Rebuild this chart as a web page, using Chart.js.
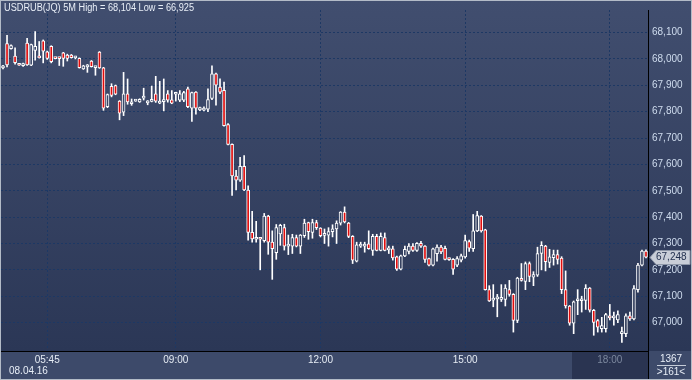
<!DOCTYPE html>
<html>
<head>
<meta charset="utf-8">
<script src="https://cdn.jsdelivr.net/npm/chart.js@4.4.0/dist/chart.umd.min.js"></script>
<style>
  html, body { margin: 0; padding: 0; background: #3a4767; }
  canvas { display: block; }
</style>
</head>
<body>
<canvas id="chartCandles" width="692" height="380"></canvas>
<script>
// USDRUB(JQ) 5M candles
const opens = [
  67.966, 68.058, 68.039, 68.011, 67.978, 67.974, 68.060, 67.976, 68.032, 68.006,
  68.069, 68.027, 68.048, 68.003, 68.002, 68.023, 68.015, 68.015, 68.004, 68.002,
  67.962, 67.970, 67.992, 67.967, 68.026, 67.966, 67.819, 67.896, 67.899, 67.840,
  67.798, 67.868, 67.830, 67.840, 67.837, 67.851, 67.833, 67.839, 67.868, 67.832,
  67.838, 67.868, 67.845, 67.866, 67.844, 67.844, 67.887, 67.813, 67.874, 67.807,
  67.806, 67.809, 67.850, 67.943, 67.893, 67.881, 67.751, 67.676, 67.556, 67.540,
  67.593, 67.503, 67.342, 67.316, 67.318, 67.311, 67.404, 67.305, 67.265, 67.336,
  67.360, 67.290, 67.290, 67.322, 67.290, 67.330, 67.379, 67.342, 67.379, 67.358,
  67.331, 67.332, 67.345, 67.355, 67.377, 67.419, 67.377, 67.327, 67.233, 67.290,
  67.290, 67.299, 67.274, 67.327, 67.274, 67.322, 67.276, 67.280, 67.249, 67.203,
  67.253, 67.270, 67.290, 67.274, 67.301, 67.290, 67.243, 67.218, 67.261, 67.286,
  67.282, 67.241, 67.240, 67.218, 67.237, 67.249, 67.307, 67.280, 67.348, 67.404,
  67.352, 67.125, 67.085, 67.090, 67.088, 67.088, 67.125, 67.107, 67.008, 67.166,
  67.156, 67.224, 67.172, 67.180, 67.262, 67.290, 67.228, 67.246, 67.258, 67.245,
  67.125, 67.063, 66.998, 67.083, 67.083, 67.084, 67.131, 67.047, 67.008, 66.977,
  66.977, 67.026, 67.018, 67.010, 66.958, 66.958, 67.026, 67.014, 67.125, 67.218,
  67.271
];
const highs = [
  67.976, 68.089, 68.053, 68.042, 67.979, 67.984, 68.078, 68.056, 68.104, 68.066,
  68.072, 68.030, 68.050, 68.004, 68.004, 68.025, 68.018, 68.017, 68.010, 68.004,
  67.976, 67.979, 67.994, 67.972, 68.028, 67.968, 67.867, 67.906, 67.901, 67.842,
  67.949, 67.924, 67.848, 67.843, 67.849, 67.889, 67.842, 67.897, 67.934, 67.915,
  67.924, 67.880, 67.880, 67.874, 67.880, 67.877, 67.893, 67.874, 67.876, 67.817,
  67.818, 67.887, 67.974, 67.946, 67.924, 67.912, 67.755, 67.678, 67.577, 67.627,
  67.633, 67.519, 67.422, 67.384, 67.320, 67.414, 67.407, 67.348, 67.372, 67.373,
  67.373, 67.332, 67.335, 67.332, 67.334, 67.392, 67.381, 67.392, 67.388, 67.360,
  67.355, 67.360, 67.371, 67.386, 67.421, 67.439, 67.380, 67.330, 67.305, 67.305,
  67.305, 67.348, 67.335, 67.335, 67.340, 67.340, 67.290, 67.290, 67.252, 67.256,
  67.290, 67.300, 67.300, 67.303, 67.308, 67.292, 67.245, 67.283, 67.295, 67.293,
  67.290, 67.245, 67.243, 67.250, 67.260, 67.332, 67.313, 67.410, 67.422, 67.406,
  67.354, 67.140, 67.144, 67.107, 67.144, 67.144, 67.160, 67.110, 67.172, 67.224,
  67.230, 67.230, 67.193, 67.286, 67.307, 67.293, 67.278, 67.275, 67.275, 67.250,
  67.196, 67.065, 67.082, 67.125, 67.100, 67.144, 67.133, 67.050, 67.012, 67.020,
  67.035, 67.069, 67.040, 67.045, 66.983, 67.033, 67.040, 67.140, 67.225, 67.275,
  67.276
];
const lows = [
  67.962, 67.970, 68.037, 67.980, 67.975, 67.972, 67.975, 67.974, 67.995, 68.003,
  67.985, 67.998, 67.985, 68.000, 67.975, 67.972, 67.992, 68.003, 68.000, 67.965,
  67.960, 67.949, 67.969, 67.938, 67.964, 67.805, 67.815, 67.856, 67.864, 67.769,
  67.785, 67.828, 67.824, 67.839, 67.835, 67.844, 67.826, 67.837, 67.835, 67.830,
  67.803, 67.836, 67.830, 67.840, 67.838, 67.838, 67.815, 67.763, 67.790, 67.804,
  67.803, 67.800, 67.845, 67.825, 67.868, 67.745, 67.674, 67.482, 67.503, 67.535,
  67.500, 67.313, 67.305, 67.305, 67.200, 67.305, 67.259, 67.164, 67.240, 67.293,
  67.275, 67.258, 67.262, 67.287, 67.262, 67.323, 67.316, 67.320, 67.353, 67.325,
  67.300, 67.290, 67.325, 67.300, 67.370, 67.378, 67.322, 67.224, 67.230, 67.285,
  67.267, 67.278, 67.255, 67.272, 67.272, 67.272, 67.262, 67.237, 67.198, 67.200,
  67.250, 67.260, 67.270, 67.270, 67.285, 67.228, 67.215, 67.215, 67.233, 67.261,
  67.238, 67.236, 67.183, 67.212, 67.230, 67.244, 67.270, 67.270, 67.345, 67.343,
  67.123, 67.080, 67.060, 67.022, 67.080, 67.063, 67.100, 66.964, 67.000, 67.157,
  67.125, 67.155, 67.140, 67.175, 67.200, 67.196, 67.209, 67.218, 67.222, 67.110,
  67.055, 66.990, 66.958, 67.030, 67.040, 67.050, 67.040, 66.952, 66.964, 66.964,
  66.964, 67.010, 66.990, 67.000, 66.925, 66.947, 67.008, 67.010, 67.115, 67.215,
  67.245
];
const closes = [
  67.972, 67.977, 68.051, 67.986, 67.976, 67.982, 67.977, 68.054, 68.048, 68.004,
  68.029, 68.002, 67.990, 68.001, 68.001, 68.002, 68.002, 68.005, 68.006, 67.967,
  67.974, 67.977, 67.971, 67.971, 67.966, 67.813, 67.865, 67.862, 67.866, 67.794,
  67.868, 67.837, 67.837, 67.842, 67.847, 67.853, 67.840, 67.841, 67.840, 67.840,
  67.846, 67.844, 67.832, 67.872, 67.868, 67.872, 67.819, 67.872, 67.813, 67.815,
  67.812, 67.846, 67.943, 67.900, 67.874, 67.747, 67.676, 67.556, 67.540, 67.593,
  67.503, 67.342, 67.317, 67.322, 67.316, 67.404, 67.305, 67.280, 67.360, 67.369,
  67.290, 67.295, 67.322, 67.290, 67.332, 67.377, 67.345, 67.379, 67.360, 67.330,
  67.334, 67.345, 67.356, 67.377, 67.419, 67.382, 67.327, 67.237, 67.295, 67.295,
  67.298, 67.280, 67.327, 67.274, 67.327, 67.274, 67.278, 67.245, 67.203, 67.253,
  67.278, 67.290, 67.274, 67.301, 67.290, 67.240, 67.218, 67.280, 67.286, 67.268,
  67.240, 67.239, 67.203, 67.243, 67.253, 67.311, 67.282, 67.348, 67.406, 67.348,
  67.125, 67.082, 67.092, 67.095, 67.092, 67.131, 67.107, 67.008, 67.169, 67.160,
  67.224, 67.175, 67.182, 67.262, 67.293, 67.231, 67.249, 67.258, 67.240, 67.125,
  67.063, 66.998, 67.079, 67.088, 67.088, 67.131, 67.047, 67.001, 66.983, 66.989,
  67.030, 67.018, 67.022, 67.030, 66.962, 67.026, 67.014, 67.129, 67.218, 67.271,
  67.248
];
const yTicks = [67.0, 67.1, 67.2, 67.3, 67.4, 67.5, 67.6, 67.7, 67.8, 67.9, 68.0, 68.1];
const timeTicks = { 11: '05:45', 43: '09:00', 79: '12:00', 115: '15:00', 151: '18:00' };
const categories = opens.map((_, i) => String(i));

const fmt = v => v.toFixed(3).replace('.', ',');
const FONT = '"Liberation Sans", Arial, sans-serif';
const gridCol = '#1d3864';
let bgGrad = null;

function plotGradient(chart) {
  if (!bgGrad) {
    bgGrad = chart.ctx.createLinearGradient(0, 0, 0, 351);
    bgGrad.addColorStop(0, '#414e6f');
    bgGrad.addColorStop(1, '#2b3756');
  }
  return bgGrad;
}

const decor = {
  id: 'decor',
  beforeDraw(chart) {
    const c = chart.ctx;
    c.save();
    c.fillStyle = plotGradient(chart);
    c.fillRect(0, 0, 692, 351);
    c.fillStyle = '#3d4a6a';
    c.fillRect(0, 351, 692, 29);
    c.fillStyle = '#2a3451';
    c.fillRect(572, 352, 76, 27);
    c.restore();
  },
  afterDraw(chart) {
    const c = chart.ctx;
    c.save();
    // separators
    c.strokeStyle = '#000';
    c.lineWidth = 1;
    c.beginPath();
    c.moveTo(648.5, 351); c.lineTo(648.5, 380);
    c.stroke();
    // header
    c.font = '10px ' + FONT;
    c.fillStyle = '#e8eef7';
    c.textBaseline = 'middle';
    c.textAlign = 'left';
    c.fillText('USDRUB(JQ) 5M High = ' + fmt(Math.max(...highs)) + ' Low = ' + fmt(Math.min(...lows)), 4, 8, 190);
    // date under first time label
    c.fillText('08.04.16', 9, 371);
    // bottom-right counter
    c.textAlign = 'center';
    c.fillText('1367', 671, 359);
    c.fillText('>' + opens.length + '<', 671, 372);
    c.strokeStyle = '#c5ccd8';
    c.beginPath();
    c.moveTo(657, 365.5); c.lineTo(686, 365.5);
    c.stroke();
    // last price tag
    const y = Math.round(chart.scales.y.getPixelForValue(closes[closes.length - 1])) + 0.5;
    c.fillStyle = '#c9ced8';
    c.strokeStyle = '#8e97a8';
    c.beginPath();
    c.moveTo(650, y);
    c.lineTo(656, y - 7);
    c.lineTo(690, y - 7);
    c.lineTo(690, y + 7);
    c.lineTo(656, y + 7);
    c.closePath();
    c.fill();
    c.stroke();
    c.fillStyle = '#1f2d4c';
    c.textAlign = 'left';
    c.fillText(fmt(closes[closes.length - 1]), 656, y);
    // frame
    c.strokeStyle = '#b3bbc7';
    c.strokeRect(0.5, 0.5, 691, 379);
    c.restore();
  }
};

new Chart(document.getElementById('chartCandles'), {
  type: 'bar',
  data: {
    labels: categories,
    datasets: [
      {
        label: 'body',
        data: opens.map((o, i) => [o, closes[i]]),
        grouped: false,
        barThickness: 3,
        minBarLength: 2,
        borderWidth: 1,
        borderSkipped: false,
        borderColor: '#ffffff',
        backgroundColor: ctx => closes[ctx.dataIndex] < opens[ctx.dataIndex] ? '#e00d0d' : plotGradient(ctx.chart)
      },
      {
        label: 'wick',
        data: lows.map((l, i) => [l, highs[i]]),
        grouped: false,
        barThickness: 1,
        borderWidth: 0,
        backgroundColor: '#ffffff'
      }
    ]
  },
  options: {
    responsive: false,
    animation: false,
    events: [],
    layout: { padding: { left: 1, top: 3, right: 0, bottom: 0 } },
    plugins: { legend: { display: false }, tooltip: { enabled: false } },
    scales: {
      x: {
        type: 'category',
        offset: true,
        afterFit: s => { s.height = 29; },
        grid: {
          offset: false,
          drawTicks: false,
          color: ctx => (ctx.index in timeTicks) ? gridCol : 'rgba(0,0,0,0)'
        },
        border: { display: true, color: '#000', width: 1, dash: [2, 2] },
        ticks: {
          autoSkip: false,
          maxRotation: 0,
          padding: 3,
          font: { family: FONT, size: 10 },
          color: ctx => ctx.index === 151 ? '#7c889e' : '#e6ecf4',
          callback: (v, i) => timeTicks[i] || ''
        }
      },
      y: {
        position: 'right',
        min: 66.8923,
        max: 68.1855,
        afterFit: s => { s.width = 44; },
        afterBuildTicks: s => { s.ticks = yTicks.map(v => ({ value: v })); },
        grid: { drawTicks: false, color: gridCol },
        border: { display: true, color: '#000', width: 1, dash: [2, 2] },
        ticks: {
          autoSkip: false,
          padding: 4,
          font: { family: FONT, size: 10 },
          color: '#cfdcee',
          callback: v => fmt(v)
        }
      }
    }
  },
  plugins: [decor]
});
</script>
</body>
</html>
